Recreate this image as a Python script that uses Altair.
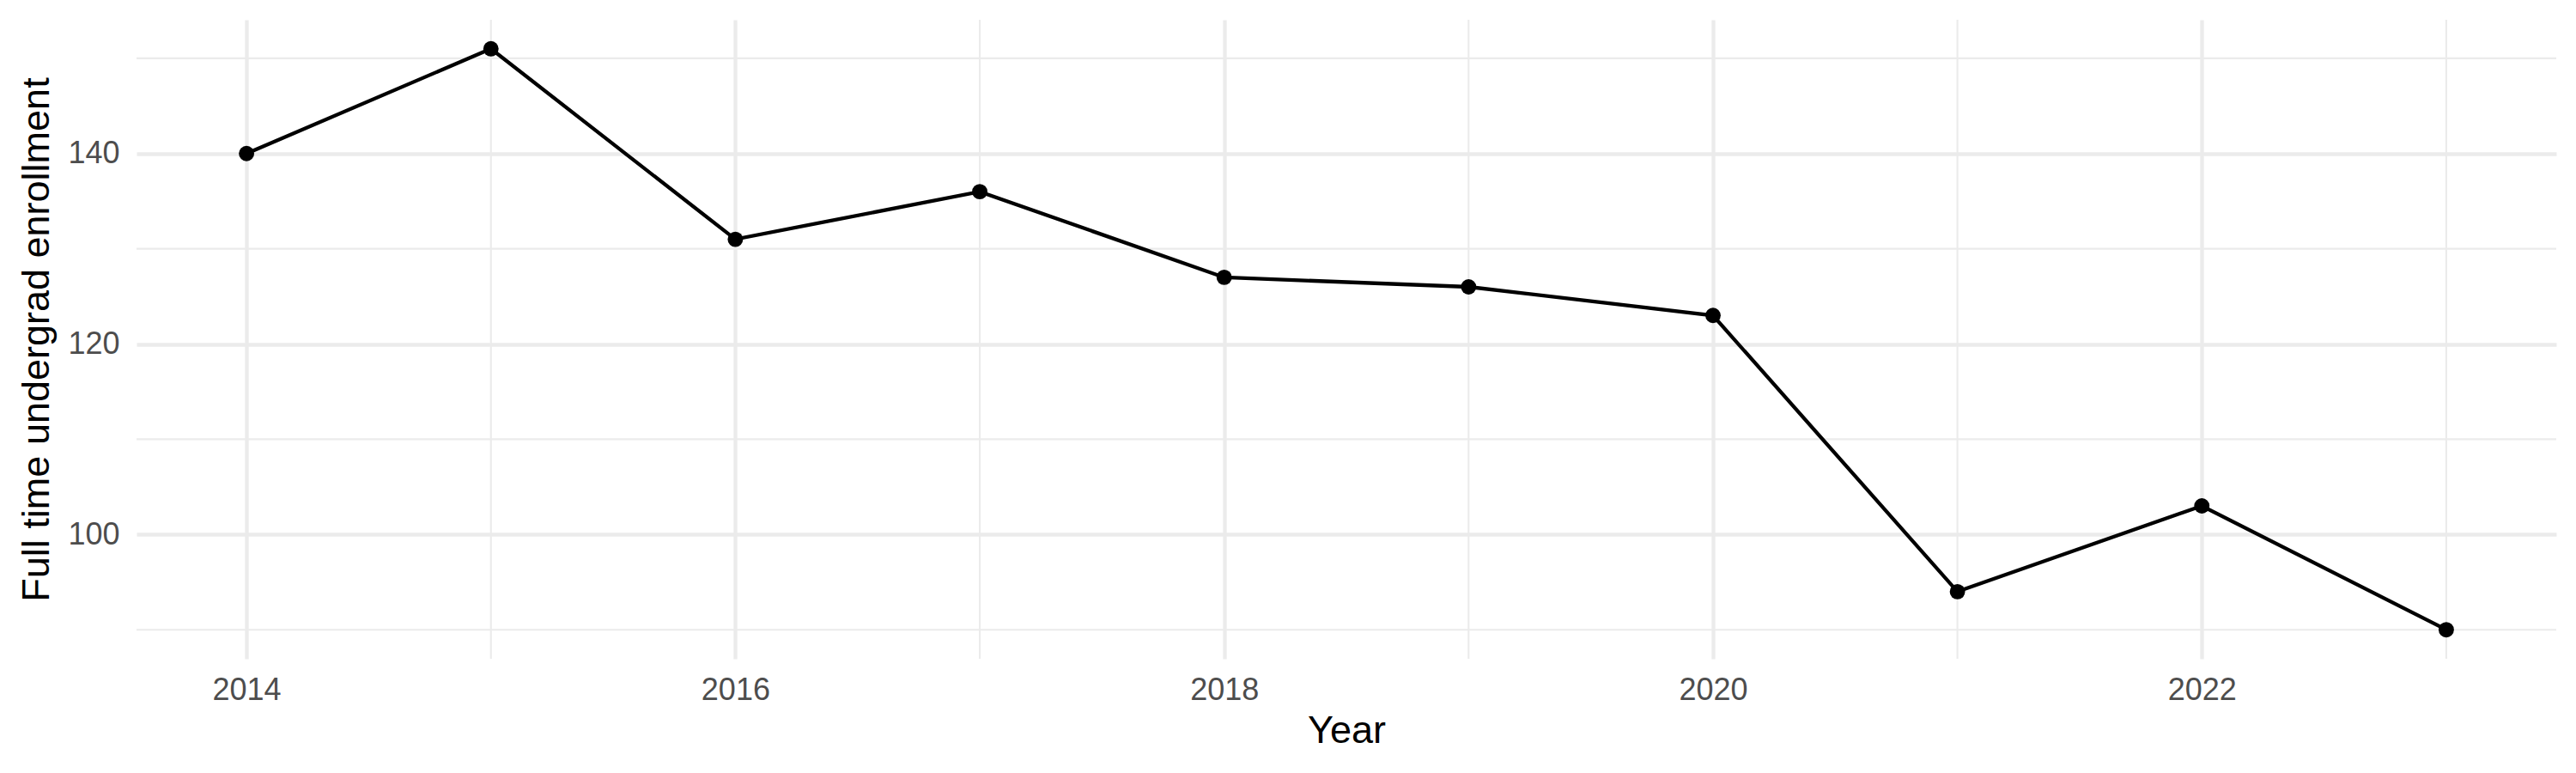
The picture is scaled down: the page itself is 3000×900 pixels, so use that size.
import altair as alt
import pandas as pd

years = [2014, 2015, 2016, 2017, 2018, 2019, 2020, 2021, 2022, 2023]
enrollment = [140, 151, 131, 136, 127, 126, 123, 94, 103, 90]

x_major = [2014, 2016, 2018, 2020, 2022]
x_minor = [2015, 2017, 2019, 2021, 2023]
y_major = [100, 120, 140]
y_minor = [90, 110, 130, 150]

df = pd.DataFrame({"Year": years, "Enrollment": enrollment})
xminor_df = pd.DataFrame({"v": x_minor})
yminor_df = pd.DataFrame({"v": y_minor})

FONT = "Liberation Sans"
GRID = "#EBEBEB"

xscale = alt.Scale(domain=[2013.55, 2023.45], nice=False, zero=False)
yscale = alt.Scale(domain=[86.95, 154.05], nice=False, zero=False)

xaxis = alt.Axis(values=x_major, format="d", title="Year", grid=True,
                 gridColor=GRID, gridWidth=4.3, domain=False, ticks=False, tickSize=0,
                 labelFontSize=36, labelColor="#4D4D4D", labelFont=FONT, labelPadding=19,
                 titleFontSize=45, titleColor="black", titleFont=FONT, titleFontWeight="normal",
                 titlePadding=7)
yaxis = alt.Axis(values=y_major, title="Full time undergrad enrollment", grid=True,
                 gridColor=GRID, gridWidth=4.3, domain=False, ticks=False, tickSize=0,
                 labelFontSize=36, labelColor="#4D4D4D", labelFont=FONT, labelPadding=20,
                 titleFontSize=45, titleColor="black", titleFont=FONT, titleFontWeight="normal",
                 titlePadding=13)

xminor = alt.Chart(xminor_df).mark_rule(color=GRID, strokeWidth=2.1).encode(
    x=alt.X("v:Q", scale=xscale, axis=xaxis))
yminor = alt.Chart(yminor_df).mark_rule(color=GRID, strokeWidth=2.1).encode(
    y=alt.Y("v:Q", scale=yscale, axis=yaxis))

base = alt.Chart(df).encode(
    x=alt.X("Year:Q", scale=xscale, axis=xaxis),
    y=alt.Y("Enrollment:Q", scale=yscale, axis=yaxis),
)
line = base.mark_line(color="black", strokeWidth=4.3)
points = base.mark_point(filled=True, color="black", size=320, opacity=1)

chart = alt.layer(xminor, yminor, line, points).properties(
    width=2818, height=744,
    autosize=alt.AutoSizeParams(type="none"),
    padding={"left": 151, "top": 15, "right": 15, "bottom": 120},
    background="white",
).configure_view(stroke=None)

chart.save("out.html", embed_options={"renderer": "svg", "actions": False})
